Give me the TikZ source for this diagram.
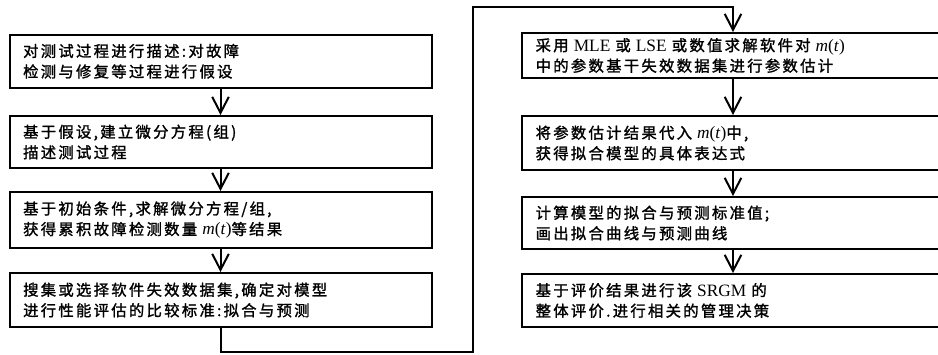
\documentclass[tikz,border=0pt]{standalone}
\usepackage{fontspec}
\setmainfont{Liberation Serif}
\newfontfamily\cjkfont[LetterSpace=15,FakeBold=1.5]{Noto Sans CJK SC}
\usetikzlibrary{arrows.meta}

\newcommand{\lat}[1]{{\rmfamily\fontsize{13}{15.4}\selectfont #1}}
\newcommand{\mt}{{\rmfamily\fontsize{13}{15.4}\selectfont\textit{m}(\textit{t})}}

\tikzset{every picture/.style={line width=1.5pt}}
\tikzset{
  stagebox/.style={draw, rectangle, text width=296pt, inner xsep=10.25pt, inner ysep=2pt,
    align=left, font={\cjkfont\fontsize{11.5}{15.4}\selectfont}},
  flowarrow/.style={-{Straight Barb[length=12pt,width=12.5pt]}}
}

\begin{document}
\begin{tikzpicture}[x=0.75pt,y=0.75pt,yscale=-1,xscale=1]
\useasboundingbox (0,0) rectangle (938,354);

% Left column
\node[stagebox, minimum height=40.1pt] (b1) at (220.5,61.25) {对测试过程进行描述:对故障\\检测与修复等过程进行假设};
\node[stagebox, minimum height=39pt] (b2) at (220.5,142) {基于假设,建立微分方程(组)\\描述测试过程};
\node[stagebox, minimum height=42pt] (b3) at (220.5,220) {基于初始条件,求解微分方程/组,\\获得累积故障检测数量 \mt{}等结果};
\node[stagebox, minimum height=40.5pt] (b4) at (220.5,300) {搜集或选择软件失效数据集,确定对模型\\进行性能评估的比较标准:拟合与预测};

% Right column
\node[stagebox, minimum height=33.75pt] (b5) at (733,55.5) {采用 \lat{MLE} 或 \lat{LSE} 或数值求解软件对 \mt\\中的参数基干失效数据集进行参数估计};
\node[stagebox, minimum height=40.5pt] (b6) at (733,143) {将参数估计结果代入 \mt{}中,\\获得拟合模型的具体表达式};
\node[stagebox, minimum height=39pt] (b7) at (733,223) {计算模型的拟合与预测标准值;\\画出拟合曲线与预测曲线};
\node[stagebox, minimum height=39.75pt] (b8) at (733,300.5) {基于评价结果进行该 \lat{SRGM} 的\\整体评价.进行相关的管理决策};

% Turning points of the link between the columns
\coordinate (lo) at (473,352);
\coordinate (hi) at (473,7);

% Arrows
\draw[flowarrow] (b1.south) -- (b2.north);
\draw[flowarrow] (b2.south) -- (b3.north);
\draw[flowarrow] (b3.south) -- (b4.north);
\draw[flowarrow] (b4.south) |- (lo) -- (hi) -| (b5.north);
\draw[flowarrow] (b5.south) -- (b6.north);
\draw[flowarrow] (b6.south) -- (b7.north);
\draw[flowarrow] (b7.south) -- (b8.north);

\end{tikzpicture}
\end{document}
